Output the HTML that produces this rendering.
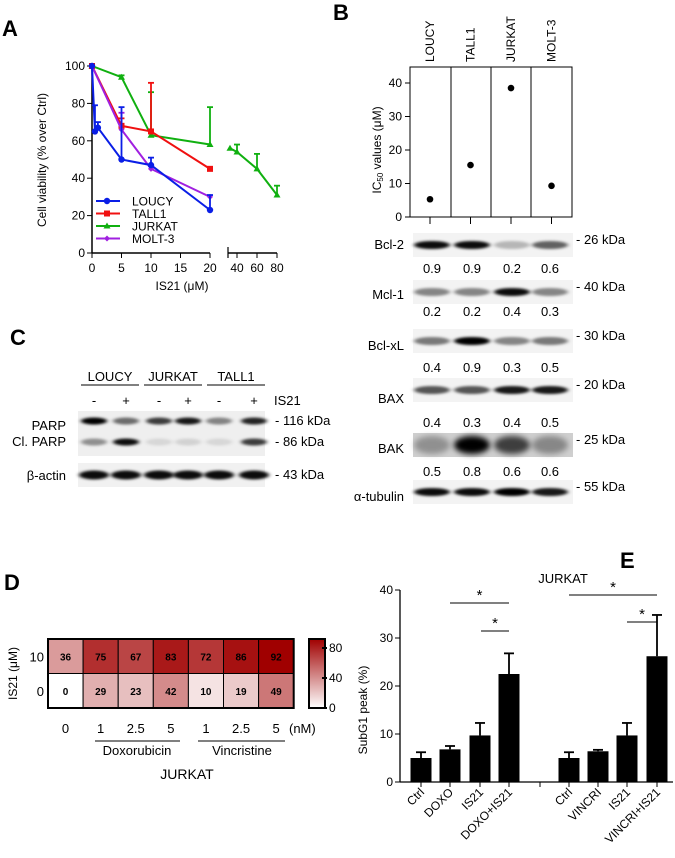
<!DOCTYPE html>
<html><head><meta charset="utf-8">
<style>
body{margin:0;background:#fff;}
svg{display:block;font-family:"Liberation Sans",Arial,sans-serif;}
</style></head>
<body>
<svg id="fig" width="675" height="858" viewBox="0 0 675 858" xmlns="http://www.w3.org/2000/svg">
<defs>
<filter id="blur" x="-20%" y="-200%" width="140%" height="500%"><feGaussianBlur stdDeviation="2.2 1.4"/></filter>
<filter id="blur2" x="-20%" y="-50%" width="140%" height="200%"><feGaussianBlur stdDeviation="3"/></filter>
<linearGradient id="cbar" x1="0" y1="1" x2="0" y2="0"><stop offset="0" stop-color="#fff"/><stop offset="1" stop-color="#a00000"/></linearGradient>
</defs>
<g font-weight="bold" font-size="22" fill="#000">
<text x="2" y="36">A</text>
<text x="333" y="20">B</text>
<text x="10" y="345">C</text>
<text x="4" y="590">D</text>
<text x="620" y="568">E</text>
</g>
<g id="pa"></g>
<g id="pb"></g>
<g id="pbw"></g>
<g id="pc"></g>
<g id="pd"></g>
<g id="pe"></g>
</svg>
<script>
// ---- Panel A data
const aSeriesNames = ["LOUCY","TALL1","JURKAT","MOLT-3"];
const aColors = ["#0a1ee6","#f01010","#10b010","#a020e0"];
const loucyX = [0,0.5,1,5,10,20], loucyY = [100,65,67,50,47,23], loucyErr = [100,79,70,78,51,31];
const tallX = [0,5,10,20], tallY = [100,68,65,45], tallErr = [100,72,91,45];
const jurkatX = [0,5,10,20], jurkatY = [100,94,63,58], jurkatErr = [100,95,86,78];
const jurkat2X = [33,40,60,80], jurkat2Y = [56,54,45,31], jurkat2Err = [56,58,53,36];
const moltX = [0,5,10,20], moltY = [100,66,45,30], moltErr = [100,75,45,30];
const aYTicks = [0,20,40,60,80,100];
const aXTicks1 = [0,5,10,15,20], aXTicks2 = [40,60,80];
// ---- Panel B data
const bLines = ["LOUCY","TALL1","JURKAT","MOLT-3"];
const bIC50 = [5.3,15.5,38.5,9.3];
const bYTicks = [0,10,20,30,40];
const blotNames = ["Bcl-2","Mcl-1","Bcl-xL","BAX","BAK","α-tubulin"];
const blotKDa = ["26 kDa","40 kDa","30 kDa","20 kDa","25 kDa","55 kDa"];
const blotQuant = [[0.9,0.9,0.2,0.6],[0.2,0.2,0.4,0.3],[0.4,0.9,0.3,0.5],[0.4,0.3,0.4,0.5],[0.5,0.8,0.6,0.6],null];
// ---- Panel D data
const dRowLabels = ["10","0"];
const dColLabels = ["0","1","2.5","5","1","2.5","5"];
const dRow10 = [36,75,67,83,72,86,92];
const dRow0 = [0,29,23,42,10,19,49];
// ---- Panel E data
const eCats = ["Ctrl","DOXO","IS21","DOXO+IS21","Ctrl","VINCRI","IS21","VINCRI+IS21"];
const eVals = [5,6.8,9.7,22.5,5,6.4,9.7,26.2];
const eErr = [6.2,7.5,12.3,26.8,6.2,6.7,12.3,34.8];
const eYTicks = [0,10,20,30,40];

const NS="http://www.w3.org/2000/svg";
function mk(parent,tag,attrs,txt){const e=document.createElementNS(NS,tag);for(const k in attrs)e.setAttribute(k,attrs[k]);if(txt!==undefined)e.textContent=txt;parent.appendChild(e);return e;}

// ===== Panel A
(function(){
const g=document.getElementById('pa');
const y=v=>253-v*1.87, x1=v=>92+v*5.9, x2=v=>237+(v-40)*1.0;
mk(g,'line',{x1:92,y1:66,x2:92,y2:253,stroke:'#000','stroke-width':1.5});
mk(g,'line',{x1:92,y1:253,x2:210,y2:253,stroke:'#000','stroke-width':1.5});
mk(g,'line',{x1:228,y1:253,x2:277,y2:253,stroke:'#000','stroke-width':1.5});
mk(g,'line',{x1:228,y1:247,x2:228,y2:258,stroke:'#000','stroke-width':1.2});
aYTicks.forEach(t=>{mk(g,'line',{x1:87,y1:y(t),x2:92,y2:y(t),stroke:'#000'});
 const e=mk(g,'text',{x:85,y:y(t)+4,'text-anchor':'end','font-size':12},t);});
aXTicks1.forEach(t=>{mk(g,'line',{x1:x1(t),y1:253,x2:x1(t),y2:258,stroke:'#000'});
 const e=mk(g,'text',{x:x1(t),y:272,'text-anchor':'middle','font-size':12},t);});
aXTicks2.forEach(t=>{mk(g,'line',{x1:x2(t),y1:253,x2:x2(t),y2:258,stroke:'#000'});
 const e=mk(g,'text',{x:x2(t),y:272,'text-anchor':'middle','font-size':12},t);});
let t=mk(g,'text',{x:182,y:290,'text-anchor':'middle','font-size':12},'IS21 (μM)');
t=mk(g,'text',{x:0,y:0,'text-anchor':'middle','font-size':12,transform:'translate(46,160) rotate(-90)'},'Cell viability (% over Ctrl)');
function series(xs,ys,errs,col,xf,marker,name){
 const s=mk(g,'g',{});
 xs.forEach((xv,i)=>{if(errs[i]>ys[i]+0.5){mk(s,'line',{x1:xf(xv),y1:y(ys[i]),x2:xf(xv),y2:y(errs[i]),stroke:col,'stroke-width':1.8});mk(s,'line',{x1:xf(xv)-3,y1:y(errs[i]),x2:xf(xv)+3,y2:y(errs[i]),stroke:col,'stroke-width':1.8});}});
 mk(s,'polyline',{points:xs.map((xv,i)=>xf(xv)+','+y(ys[i])).join(' '),fill:'none',stroke:col,'stroke-width':2});
 xs.forEach((xv,i)=>drawMarker(s,marker,xf(xv),y(ys[i]),col));
}
function drawMarker(s,m,cx,cy,col){
 if(m==='c')mk(s,'circle',{cx,cy,r:3.2,fill:col});
 else if(m==='s')mk(s,'rect',{x:cx-3,y:cy-3,width:6,height:6,fill:col});
 else if(m==='t')mk(s,'polygon',{points:`${cx},${cy-3.5} ${cx-3.5},${cy+2.5} ${cx+3.5},${cy+2.5}`,fill:col});
 else mk(s,'polygon',{points:`${cx},${cy-3} ${cx+3},${cy} ${cx},${cy+3} ${cx-3},${cy}`,fill:col});
}
series(jurkatX,jurkatY,jurkatErr,aColors[2],x1,'t','series-jurkat');
series(jurkat2X,jurkat2Y,jurkat2Err,aColors[2],x2,'t','series-jurkat-high');
series(tallX,tallY,tallErr,aColors[1],x1,'s','series-tall1');
series(moltX,moltY,moltErr,aColors[3],x1,'d','series-molt3');
series(loucyX,loucyY,loucyErr,aColors[0],x1,'c','series-loucy');
const mks=['c','s','t','d'];
aSeriesNames.forEach((n,i)=>{const ly=201+i*12.5;const le=mk(g,'g',{});
 mk(le,'line',{x1:96,y1:ly,x2:120,y2:ly,stroke:aColors[i],'stroke-width':2});drawMarker(le,mks[i],107,ly,aColors[i]);
 mk(le,'text',{x:132,y:ly+4.5,'font-size':12},n);});
})();

// ===== Panel B chart
(function(){
const g=document.getElementById('pb');
const y=v=>217-v*3.35, cx=i=>430+i*40.5;
mk(g,'rect',{x:410,y:67,width:162,height:150,fill:'none',stroke:'#000','stroke-width':1});
[451,491,531].forEach(xx=>mk(g,'line',{x1:xx,y1:67,x2:xx,y2:217,stroke:'#000'}));
bYTicks.forEach(t=>{mk(g,'line',{x1:405,y1:y(t),x2:410,y2:y(t),stroke:'#000'});const e=mk(g,'text',{x:402,y:y(t)+4,'text-anchor':'end','font-size':12},t);});
bLines.forEach((n,i)=>{mk(g,'line',{x1:cx(i),y1:217,x2:cx(i),y2:224,stroke:'#000'});
 const e=mk(g,'text',{x:0,y:0,'font-size':12,transform:`translate(${cx(i)+4},62) rotate(-90)`},n);
 const d=mk(g,'circle',{cx:cx(i),cy:y(bIC50[i]),r:3.3,fill:'#000'});});
const t=mk(g,'text',{x:0,y:0,'text-anchor':'middle','font-size':12,transform:'translate(381,150) rotate(-90)'});
t.innerHTML='IC<tspan font-size="8" dy="2">50</tspan><tspan dy="-2"> values (μM)</tspan>';
})();

// ===== Panel B blots
(function(){
const g=document.getElementById('pbw');
const bandY=[245,292,341,390,445,492];
const labelY=[245,295,346,399,449,497];
const numY=[268,311,367,422,471];
const intens=[[0.95,0.95,0.25,0.6],[0.45,0.45,0.95,0.45],[0.5,1,0.45,0.5],[0.65,0.65,0.9,0.9],[0.3,1,0.7,0.35],[0.95,0.95,1,0.9]];
const laneX=[432,472,512,550];
blotNames.forEach((n,r)=>{
 const grp=mk(g,'g',{});
 mk(grp,'rect',{x:413,y:bandY[r]-12,width:160,height:24,fill:r===4?'#cfcfcf':'#f3f3f3'});
 laneX.forEach((lx,i)=>{const a=intens[r][i];mk(grp,'ellipse',{cx:lx,cy:bandY[r],rx:18,ry:r===4?9:4,fill:`rgba(0,0,0,${a})`,filter:r===4?'url(#blur2)':'url(#blur)'});});
 mk(grp,'text',{x:404,y:labelY[r]+4,'text-anchor':'end','font-size':13},n);
 mk(grp,'text',{x:576,y:bandY[r]-1,'font-size':13},'- '+blotKDa[r]);
 if(blotQuant[r])blotQuant[r].forEach((q,i)=>mk(grp,'text',{x:laneX[i],y:numY[r]+5,'text-anchor':'middle','font-size':13},q.toFixed(1)));
});
})();

// ===== Panel C
(function(){
const g=document.getElementById('pc');
const groups=[["LOUCY",110],["JURKAT",173],["TALL1",236]];
groups.forEach(([n,x])=>{mk(g,'text',{x,y:381,'text-anchor':'middle','font-size':13},n);mk(g,'line',{x1:x-29,y1:385,x2:x+29,y2:385,stroke:'#000'});});
const lanes=[94,126,159,188,219,254];
lanes.forEach((x,i)=>mk(g,'text',{x,y:405,'text-anchor':'middle','font-size':13},i%2?'+':'-'));
mk(g,'text',{x:274,y:405,'font-size':13},'IS21');
mk(g,'rect',{x:78,y:411,width:187,height:45,fill:'#efefef'});
const parp=[1,0.55,0.75,0.9,0.45,0.85], cl=[0.4,0.95,0.1,0.12,0.1,0.75];
lanes.forEach((x,i)=>{mk(g,'ellipse',{cx:x,cy:421,rx:13,ry:3.5,fill:`rgba(0,0,0,${parp[i]})`,filter:'url(#blur)'});mk(g,'ellipse',{cx:x,cy:442,rx:13,ry:3.5,fill:`rgba(0,0,0,${cl[i]})`,filter:'url(#blur)'});});
mk(g,'rect',{x:78,y:463,width:187,height:24,fill:'#f1f1f1'});
lanes.forEach(x=>mk(g,'ellipse',{cx:x,cy:475,rx:15,ry:4.5,fill:'rgba(0,0,0,0.95)',filter:'url(#blur)'}));
mk(g,'text',{x:66,y:430,'text-anchor':'end','font-size':13},'PARP');
mk(g,'text',{x:66,y:446,'text-anchor':'end','font-size':13},'Cl. PARP');
mk(g,'text',{x:66,y:480,'text-anchor':'end','font-size':13},'β-actin');
mk(g,'text',{x:275,y:425,'font-size':13},'- 116 kDa');
mk(g,'text',{x:275,y:446,'font-size':13},'- 86 kDa');
mk(g,'text',{x:275,y:479,'font-size':13},'- 43 kDa');
})();

// ===== Panel D
(function(){
const g=document.getElementById('pd');
const x0=48,cw=35.1,y0=639,ch=34.5;
const col=v=>{const f=Math.min(v/92,1);return `rgb(${Math.round(255-95*f)},${Math.round(255*(1-f))},${Math.round(255*(1-f))})`;};
[dRow10,dRow0].forEach((row,r)=>row.forEach((v,c)=>{
 const cell=mk(g,'g',{});
 mk(cell,'rect',{x:x0+c*cw,y:y0+r*ch,width:cw,height:ch,fill:col(v),stroke:'#000','stroke-width':1});
 mk(cell,'text',{x:x0+c*cw+cw/2,y:y0+r*ch+ch/2+4,'text-anchor':'middle','font-size':10,'font-weight':'bold'},v);}));
mk(g,'rect',{x:x0,y:y0,width:cw*7,height:ch*2,fill:'none',stroke:'#000','stroke-width':2});
dRowLabels.forEach((l,r)=>mk(g,'text',{x:44,y:y0+r*ch+ch/2+5,'text-anchor':'end','font-size':13},l));
mk(g,'text',{x:0,y:0,'text-anchor':'middle','font-size':12,transform:`translate(17,${y0+ch}) rotate(-90)`},'IS21 (μM)');
dColLabels.forEach((l,c)=>mk(g,'text',{x:x0+c*cw+cw/2,y:733,'text-anchor':'middle','font-size':13},l));
mk(g,'text',{x:289,y:733,'font-size':13},'(nM)');
mk(g,'line',{x1:95,y1:741,x2:180,y2:741,stroke:'#000'});
mk(g,'line',{x1:198,y1:741,x2:285,y2:741,stroke:'#000'});
mk(g,'text',{x:137,y:755,'text-anchor':'middle','font-size':13},'Doxorubicin');
mk(g,'text',{x:242,y:755,'text-anchor':'middle','font-size':13},'Vincristine');
mk(g,'text',{x:187,y:779,'text-anchor':'middle','font-size':14},'JURKAT');
const cb=mk(g,'g',{});
mk(cb,'rect',{x:309,y:639,width:16,height:69,fill:'url(#cbar)',stroke:'#000','stroke-width':2});
[[0,708],[40,678],[80,648]].forEach(([v,yy])=>{mk(cb,'line',{x1:322,y1:yy,x2:327,y2:yy,stroke:'#000','stroke-width':2});mk(cb,'text',{x:329,y:yy+4,'font-size':12},v);});
})();

// ===== Panel E
(function(){
const g=document.getElementById('pe');
const y=v=>782-v*4.8;
const cx=[421,450,480,509,569,598,627,657];
mk(g,'line',{x1:400,y1:y(40),x2:400,y2:782,stroke:'#000','stroke-width':1.3});
mk(g,'line',{x1:400,y1:782,x2:673,y2:782,stroke:'#000','stroke-width':1.3});
eYTicks.forEach(t=>{mk(g,'line',{x1:395,y1:y(t),x2:400,y2:y(t),stroke:'#000'});const e=mk(g,'text',{x:393,y:y(t)+4,'text-anchor':'end','font-size':12},t);});
let t=mk(g,'text',{x:0,y:0,'text-anchor':'middle','font-size':12,transform:'translate(367,710) rotate(-90)'},'SubG1 peak (%)');
mk(g,'line',{x1:540,y1:782,x2:540,y2:787,stroke:'#000'});
eCats.forEach((c,i)=>{
 const b=mk(g,'g',{});
 mk(b,'line',{x1:cx[i],y1:y(eVals[i]),x2:cx[i],y2:y(eErr[i]),stroke:'#000','stroke-width':1.8});
 mk(b,'line',{x1:cx[i]-5,y1:y(eErr[i]),x2:cx[i]+5,y2:y(eErr[i]),stroke:'#000','stroke-width':1.8});
 mk(b,'rect',{x:cx[i]-10.5,y:y(eVals[i]),width:21,height:782-y(eVals[i]),fill:'#000'});
 mk(g,'line',{x1:cx[i],y1:782,x2:cx[i],y2:787,stroke:'#000'});
 mk(g,'text',{x:0,y:0,'text-anchor':'end','font-size':12,transform:`translate(${cx[i]+4},793) rotate(-45)`},c);
});
mk(g,'text',{x:563,y:583,'text-anchor':'middle','font-size':13},'JURKAT');
[[450,509,603],[481,509,631],[569,657,595],[627,657,622]].forEach(([a,b2,yy])=>{mk(g,'line',{x1:a,y1:yy,x2:b2,y2:yy,stroke:'#000'});mk(g,'text',{x:(a+b2)/2,y:yy-3,'text-anchor':'middle','font-size':15},'*');});
})();
</script>
</body></html>
